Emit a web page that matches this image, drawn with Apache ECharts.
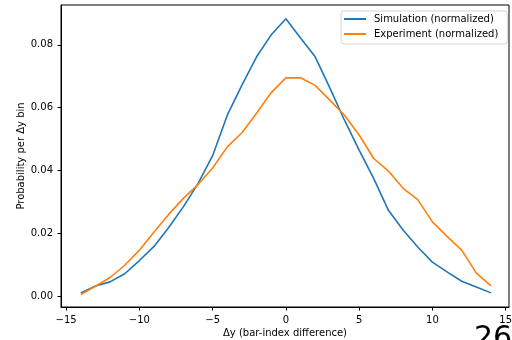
<!DOCTYPE html>
<html>
<head>
<meta charset="utf-8">
<script src="https://cdn.jsdelivr.net/npm/echarts@6/dist/echarts.min.js"></script>
<style>
  html, body { margin: 0; padding: 0; background: #fff; }
  #chart { width: 512px; height: 340px; }
</style>
</head>
<body>
<div id="chart"></div>
<script>
// Δy bins (bar-index difference)
const deltaY = [-14, -13, -12, -11, -10, -9, -8, -7, -6, -5, -4, -3, -2, -1, 0,
                1, 2, 3, 4, 5, 6, 7, 8, 9, 10, 11, 12, 13, 14];

// Normalized probability per Δy bin
const simulation = [0.0010, 0.0032, 0.0045, 0.0071, 0.0113, 0.0158, 0.0218, 0.0284, 0.0358, 0.0447,
                    0.0576, 0.0672, 0.0762, 0.0832, 0.0883,
                    0.0822, 0.0762, 0.0663, 0.0560, 0.0465, 0.0374, 0.0273, 0.0210, 0.0156, 0.0108,
                    0.0077, 0.0047, 0.0029, 0.0010];
const experiment = [0.0005, 0.0031, 0.0059, 0.0098, 0.0146, 0.0204, 0.0260, 0.0311, 0.0355, 0.0408,
                    0.0475, 0.0520, 0.0582, 0.0648, 0.0695,
                    0.0695, 0.0671, 0.0624, 0.0576, 0.0513, 0.0438, 0.0398, 0.0343, 0.0307, 0.0236,
                    0.0190, 0.0146, 0.0073, 0.0032];

const xTicks = [-15, -10, -5, 0, 5, 10, 15];
const yTicks = [0, 0.02, 0.04, 0.06, 0.08];

const seriesNames = ['Simulation (normalized)', 'Experiment (normalized)'];
const colors = ['#1f77b4', '#ff7f0e'];

const font = 'DejaVu Sans';

const pairs = arr => deltaY.map((d, i) => [d, arr[i]]);

const chart = echarts.init(document.getElementById('chart'), null, { renderer: 'canvas' });

chart.setOption({
  animation: false,
  backgroundColor: '#ffffff',
  textStyle: { fontFamily: font },
  grid: { left: 61, right: 3, top: 5, bottom: 33, containLabel: false, outerBoundsMode: 'none' },
  legend: {
    orient: 'vertical',
    left: 341,
    top: 11,
    data: seriesNames,
    icon: 'rect',
    itemWidth: 22,
    itemHeight: 2,
    itemGap: 3,
    padding: [2, 9, 4, 3],
    backgroundColor: '#ffffff',
    borderColor: '#d4d4d4',
    borderWidth: 1,
    borderRadius: 3,
    textStyle: { fontFamily: font, fontSize: 10, color: '#000', lineHeight: 12, padding: [0, 0, 0, 3] }
  },
  xAxis: {
    type: 'value',
    min: -15.35,
    max: 15.23,
    name: 'Δy (bar-index difference)',
    nameLocation: 'middle',
    nameGap: 21,
    nameMoveOverlap: false,
    nameTextStyle: { fontFamily: font, fontSize: 10, color: '#000' },
    splitLine: { show: false },
    axisLine: { show: true, onZero: false, lineStyle: { color: '#000', width: 1 } },
    axisTick: { show: true, length: 3.5, customValues: xTicks, lineStyle: { color: '#000' } },
    axisLabel: { customValues: xTicks, fontFamily: font, fontSize: 10, color: '#000', margin: 8,
                 formatter: v => (v < 0 ? '\u2212' + Math.abs(v) : String(v)) }
  },
  yAxis: {
    type: 'value',
    min: -0.0035,
    max: 0.0927,
    name: 'Probability per Δy bin',
    nameLocation: 'middle',
    nameGap: 35,
    nameMoveOverlap: false,
    nameTextStyle: { fontFamily: font, fontSize: 10, color: '#000' },
    splitLine: { show: false },
    axisLine: { show: true, onZero: false, lineStyle: { color: '#000', width: 1 } },
    axisTick: { show: true, length: 3.5, customValues: yTicks, lineStyle: { color: '#000' } },
    axisLabel: { customValues: yTicks, fontFamily: font, fontSize: 10, color: '#000', margin: 8,
                 formatter: v => v.toFixed(2) }
  },
  graphic: [
    // frame: top and right spines
    { type: 'rect', shape: { x: 61, y: 5, width: 448, height: 302 }, silent: true, z: 0,
      style: { fill: 'none', stroke: '#000', lineWidth: 1 } },
    // page number
    { type: 'text', left: 474, top: 324, silent: true,
      style: { text: '26', fontFamily: font, fontSize: 30, fill: '#000' } }
  ],
  series: [
    { name: seriesNames[0], type: 'line', data: pairs(simulation), symbol: 'none',
      lineStyle: { color: colors[0], width: 1.6 }, itemStyle: { color: colors[0] } },
    { name: seriesNames[1], type: 'line', data: pairs(experiment), symbol: 'none',
      lineStyle: { color: colors[1], width: 1.6 }, itemStyle: { color: colors[1] } }
  ]
});
</script>
</body>
</html>
